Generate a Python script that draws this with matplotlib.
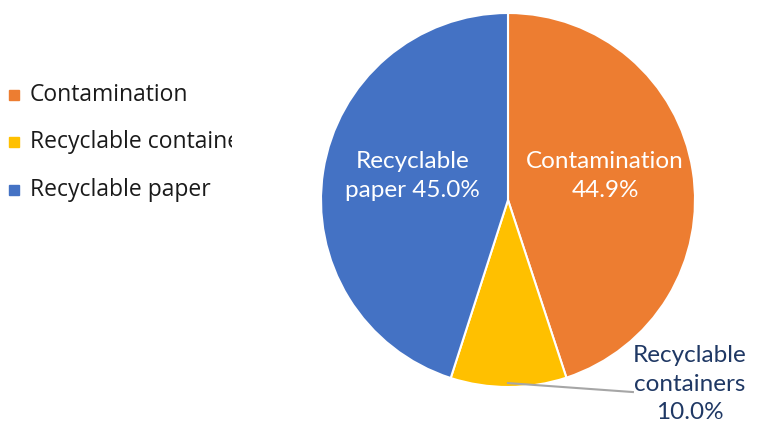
import matplotlib.pyplot as plt

# ---- Data ----
categories = ["Contamination", "Recyclable containers", "Recyclable paper"]
shares = [44.9, 10.0, 45.0]
colors = ["#ED7D31", "#FFC000", "#4472C4"]

W, H = 758, 428
CX, CY, R = 508, 200, 187  # pie centre / radius in pixels

fig = plt.figure(figsize=(W / 100, H / 100), dpi=100)
fig.patch.set_facecolor("white")

# pie axes covers the whole figure, 1 data unit = R pixels
ax = fig.add_axes([0, 0, 1, 1])
wedges, _ = ax.pie(
    shares, colors=colors, startangle=90, counterclock=False,
    radius=1.0, center=(0, 0), frame=True,
    wedgeprops=dict(edgecolor="white", linewidth=1.5),
)
ax.set_aspect("auto")
ax.set_xlim(-CX / R, (W - CX) / R)
ax.set_ylim(-(H - CY) / R, CY / R)
ax.axis("off")

label_font = "Lato"
ax.text(0.52, 0.13, f"{categories[0]}\n{shares[0]:.1f}%", color="white",
        ha="center", va="center", fontsize=17.5, family=label_font, linespacing=1.45)
ax.text(-0.51, 0.13, f"Recyclable\npaper {shares[2]:.1f}%", color="white",
        ha="center", va="center", fontsize=17.5, family=label_font, linespacing=1.45)

# outside label with leader line
ax.plot([0.0, 0.668], [-0.979, -1.027], color="#A6A6A6", lw=1.5)
ax.text(0.973, -0.984, f"Recyclable\ncontainers\n{shares[1]:.1f}%", color="#1F3864",
        ha="center", va="center", fontsize=17.5, family=label_font, linespacing=1.45)

# ---- Legend (clipped at the right edge like the original) ----
lax = fig.add_axes([0, 0, 232 / W, 1])
lax.set_xlim(0, 232)
lax.set_ylim(H, 0)
lax.axis("off")
rows_y = [95, 142, 190]
for name, col, y in zip(categories, colors, rows_y):
    lax.plot([14], [y], marker="s", ms=7, color=col, clip_on=False)
    t = lax.text(30, y, name, ha="left", va="center", fontsize=16.5,
                 family="Open Sans", color="#1A1A1A")
    t.set_clip_on(True)
    t.set_clip_box(lax.bbox)

fig.savefig("out.png", dpi=100)
